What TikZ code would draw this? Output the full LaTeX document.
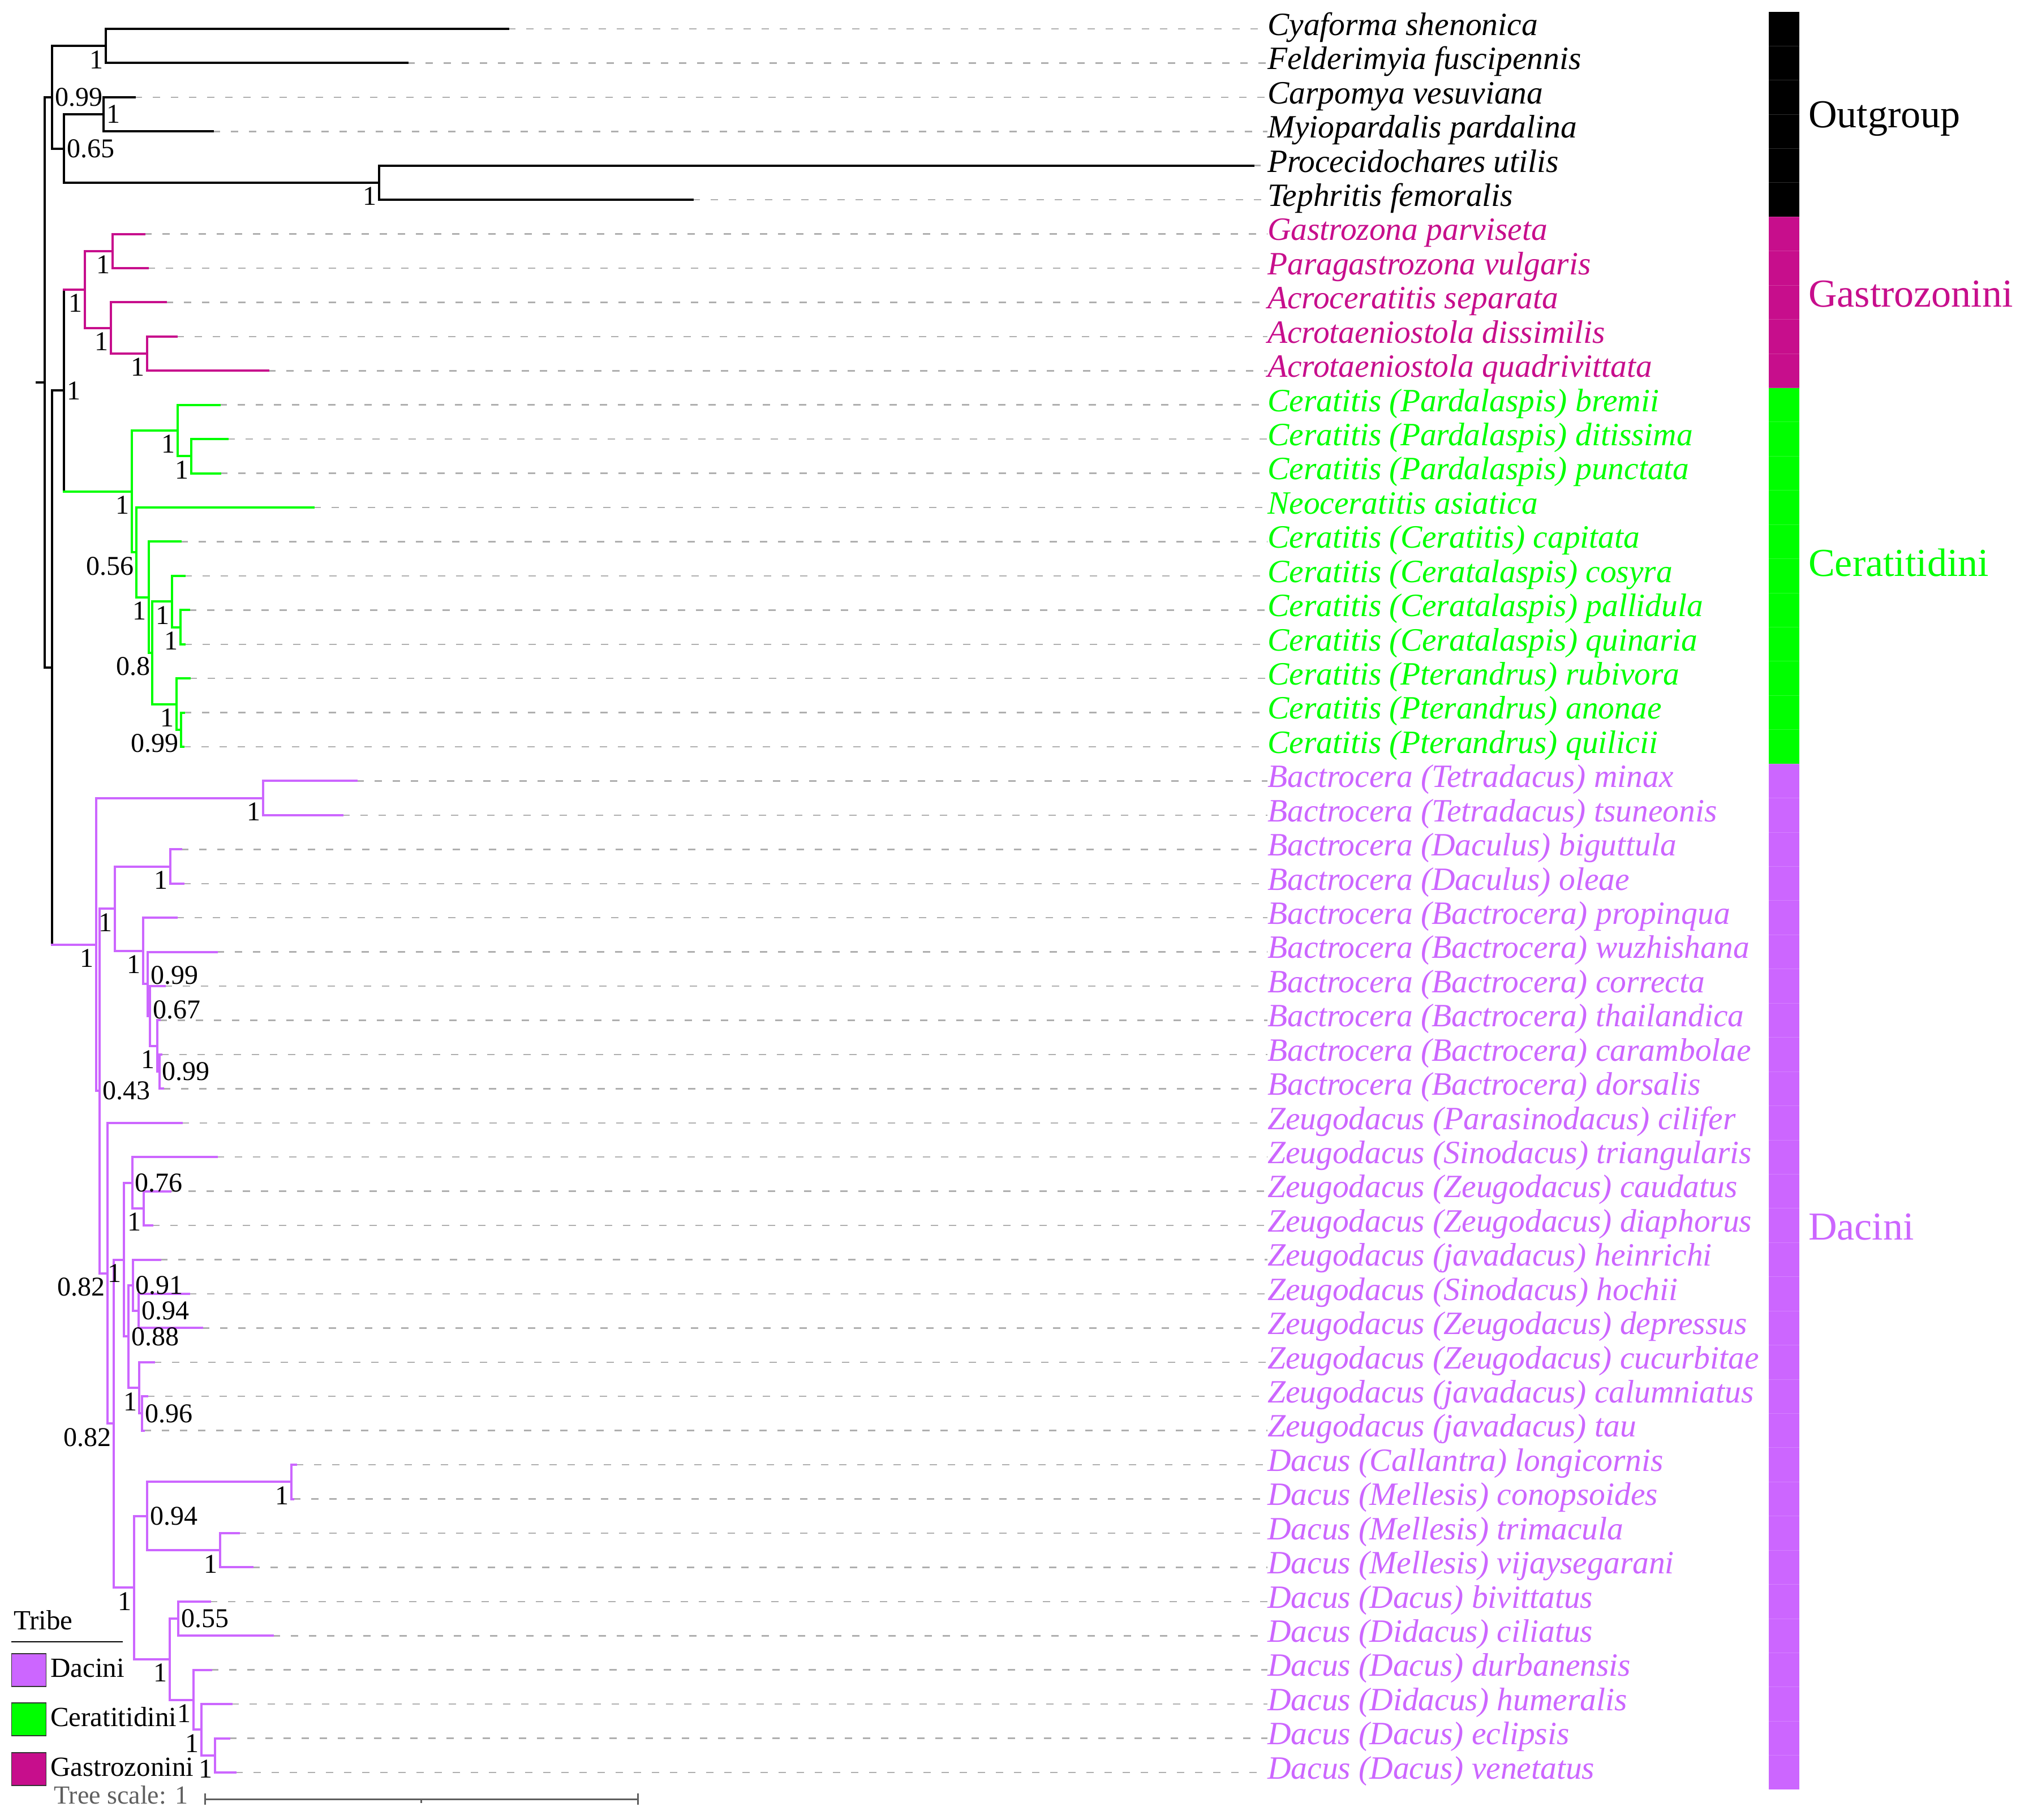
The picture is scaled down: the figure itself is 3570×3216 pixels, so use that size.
\documentclass[tikz,border=0pt]{standalone}
\usepackage{fontspec}
\setmainfont{Liberation Serif}
\usetikzlibrary{calc}
\definecolor{gz}{RGB}{199,14,140}
\definecolor{ce}{RGB}{0,255,0}
\definecolor{da}{RGB}{204,102,255}
\definecolor{dashgray}{RGB}{175,175,175}
\definecolor{scalegray}{RGB}{95,95,95}
\tikzset{
 br/.style={line width=4pt, line cap=rect, line join=miter},
 blk/.style={br, black},
 gzb/.style={br, gz},
 ceb/.style={br, ce},
 dab/.style={br, da},
 dsh/.style={dashgray, line width=2.5pt, dash pattern=on 13pt off 19pt},
 leaf/.style={anchor=mid west, inner sep=0pt, yshift=-9pt, font=\fontsize{57.5}{60}\selectfont\itshape},
 bs/.style={inner sep=0pt, font=\fontsize{48}{50}\selectfont, text=black},
 grp/.style={anchor=base west, inner sep=0pt, font=\fontsize{70}{72}\selectfont},
 leg/.style={anchor=base west, inner sep=0pt, font=\fontsize{49}{52}\selectfont},
 keybox/.style={draw=black!80, line width=1.5pt, minimum width=61pt, minimum height=58pt, inner sep=0pt},
}
\newcommand\leaf[4]{%
 \coordinate (t#1) at (#2,#1);
 \coordinate (e#1) at (2240,#1);
 \node[leaf,text=#3] (l#1) at (e#1) {#4};
 \draw[dsh] (t#1) -- (e#1);
}
\newcommand\clade[5]{%
 \coordinate (#2) at (#3);
 \draw[#1] (#4) -- (#4 -| #2) -- (#5 -| #2) -- (#5);
}
\newcommand\bne[2]{\node[bs,anchor=north east] (s#1) at ([xshift=-4pt,yshift=-8pt]#1) {#2};}
\newcommand\bw[3][0pt]{\node[bs,anchor=west] (s#2) at ([xshift=5pt,yshift=#1]#2) {#3};}
\begin{document}
\begin{tikzpicture}[x=1pt,y=-1pt]
\useasboundingbox (0,0) rectangle (3570,3216);
\fill[white] (0,0) rectangle (3570,3216);
\begin{scope}[yshift=-51pt,y=-60.43pt]
% colour bar
\foreach \i in {0,...,5} \fill[black] (3126,\i-0.5) rectangle (3180,\i+0.5);
\foreach \i in {6,...,10} \fill[gz] (3126,\i-0.5) rectangle (3180,\i+0.5);
\foreach \i in {11,...,21} \fill[ce] (3126,\i-0.5) rectangle (3180,\i+0.5);
\foreach \i in {22,...,51} \fill[da] (3126,\i-0.5) rectangle (3180,\i+0.5);
\foreach \i in {0,...,50} \draw[white, opacity=0.18, line width=1pt] (3126,\i+0.5) -- (3180,\i+0.5);
% leaves
\leaf{0}{898}{black}{Cyaforma shenonica}
\leaf{1}{720}{black}{Felderimyia fuscipennis}
\leaf{2}{238}{black}{Carpomya vesuviana}
\leaf{3}{376}{black}{Myiopardalis pardalina}
\leaf{4}{2215}{black}{Procecidochares utilis}
\leaf{5}{1224}{black}{Tephritis femoralis}
\leaf{6}{255}{gz}{Gastrozona parviseta}
\leaf{7}{261}{gz}{Paragastrozona vulgaris}
\leaf{8}{293}{gz}{Acroceratitis separata}
\leaf{9}{312}{gz}{Acrotaeniostola dissimilis}
\leaf{10}{474}{gz}{Acrotaeniostola quadrivittata}
\leaf{11}{388}{ce}{Ceratitis (Pardalaspis) bremii}
\leaf{12}{402}{ce}{Ceratitis (Pardalaspis) ditissima}
\leaf{13}{389}{ce}{Ceratitis (Pardalaspis) punctata}
\leaf{14}{554}{ce}{Neoceratitis asiatica}
\leaf{15}{319}{ce}{Ceratitis (Ceratitis) capitata}
\leaf{16}{326}{ce}{Ceratitis (Ceratalaspis) cosyra}
\leaf{17}{334}{ce}{Ceratitis (Ceratalaspis) pallidula}
\leaf{18}{326}{ce}{Ceratitis (Ceratalaspis) quinaria}
\leaf{19}{335}{ce}{Ceratitis (Pterandrus) rubivora}
\leaf{20}{325}{ce}{Ceratitis (Pterandrus) anonae}
\leaf{21}{324}{ce}{Ceratitis (Pterandrus) quilicii}
\leaf{22}{630}{da}{Bactrocera (Tetradacus) minax}
\leaf{23}{605}{da}{Bactrocera (Tetradacus) tsuneonis}
\leaf{24}{320}{da}{Bactrocera (Daculus) biguttula}
\leaf{25}{324}{da}{Bactrocera (Daculus) oleae}
\leaf{26}{312}{da}{Bactrocera (Bactrocera) propinqua}
\leaf{27}{383}{da}{Bactrocera (Bactrocera) wuzhishana}
\leaf{28}{291}{da}{Bactrocera (Bactrocera) correcta}
\leaf{29}{282}{da}{Bactrocera (Bactrocera) thailandica}
\leaf{30}{285}{da}{Bactrocera (Bactrocera) carambolae}
\leaf{31}{288}{da}{Bactrocera (Bactrocera) dorsalis}
\leaf{32}{321}{da}{Zeugodacus (Parasinodacus) cilifer}
\leaf{33}{383}{da}{Zeugodacus (Sinodacus) triangularis}
\leaf{34}{301}{da}{Zeugodacus (Zeugodacus) caudatus}
\leaf{35}{269}{da}{Zeugodacus (Zeugodacus) diaphorus}
\leaf{36}{283}{da}{Zeugodacus (javadacus) heinrichi}
\leaf{37}{334}{da}{Zeugodacus (Sinodacus) hochii}
\leaf{38}{357}{da}{Zeugodacus (Zeugodacus) depressus}
\leaf{39}{272}{da}{Zeugodacus (Zeugodacus) cucurbitae}
\leaf{40}{260}{da}{Zeugodacus (javadacus) calumniatus}
\leaf{41}{254}{da}{Zeugodacus (javadacus) tau}
\leaf{42}{523}{da}{Dacus (Callantra) longicornis}
\leaf{43}{518}{da}{Dacus (Mellesis) conopsoides}
\leaf{44}{422}{da}{Dacus (Mellesis) trimacula}
\leaf{45}{446}{da}{Dacus (Mellesis) vijaysegarani}
\leaf{46}{371}{da}{Dacus (Dacus) bivittatus}
\leaf{47}{482}{da}{Dacus (Didacus) ciliatus}
\leaf{48}{373}{da}{Dacus (Dacus) durbanensis}
\leaf{49}{409}{da}{Dacus (Didacus) humeralis}
\leaf{50}{405}{da}{Dacus (Dacus) eclipsis}
\leaf{51}{416}{da}{Dacus (Dacus) venetatus}
% outgroup
\clade{blk}{CF}{187,0.5}{t0}{t1}
\clade{blk}{CM}{183,2.5}{t2}{t3}
\clade{blk}{PT}{670,4.5}{t4}{t5}
\clade{blk}{O65}{113,3.5}{CM}{PT}
\clade{blk}{OG}{92,2}{CF}{O65}
% Gastrozonini
\clade{gzb}{GP}{199,6.5}{t6}{t7}
\clade{gzb}{AT}{260,9.5}{t9}{t10}
\clade{gzb}{AC}{196,8.75}{t8}{AT}
\clade{gzb}{GZ}{150,7.625}{GP}{AC}
% Ceratitidini
\clade{ceb}{DP}{338,12.5}{t12}{t13}
\clade{ceb}{PA}{314,11.75}{t11}{DP}
\clade{ceb}{PQ}{319,17.5}{t17}{t18}
\clade{ceb}{CS}{303.5,16.75}{t16}{PQ}
\clade{ceb}{AQ}{320,20.5}{t20}{t21}
\clade{ceb}{PR}{312,19.75}{t19}{AQ}
\clade{ceb}{C08}{269.3,18.25}{CS}{PR}
\clade{ceb}{C1}{263,16.625}{t15}{C08}
\clade{ceb}{C56}{240.7,15.3125}{t14}{C1}
\clade{ceb}{CE}{233,13.53125}{PA}{C56}
% Gastrozonini + Ceratitidini
\coordinate (GC) at (113,10.578125);
\draw[blk] (GZ -| GC) -- (CE -| GC);
\draw[gzb] (GZ -| GC) -- (GZ);
\draw[ceb] (CE -| GC) -- (CE);
% Dacini
\clade{dab}{TE}{465,22.5}{t22}{t23}
\clade{dab}{DA}{301,24.5}{t24}{t25}
\clade{dab}{B5}{281.5,30.5}{t30}{t31}
\clade{dab}{B4}{278,29.75}{t29}{B5}
\clade{dab}{B3}{265,28.875}{t28}{B4}
\clade{dab}{B2}{261,27.9375}{t27}{B3}
\clade{dab}{B1}{252.5,26.96875}{t26}{B2}
\clade{dab}{B0}{203,25.734375}{DA}{B1}
\clade{dab}{CD}{253.5,34.5}{t34}{t35}
\clade{dab}{Z3}{233.6,33.75}{t33}{CD}
\clade{dab}{Z6}{244.8,37.5}{t37}{t38}
\clade{dab}{Z5}{234.6,36.75}{t36}{Z6}
\clade{dab}{CT}{251.4,40.5}{t40}{t41}
\clade{dab}{Z7}{246.3,39.75}{t39}{CT}
\clade{dab}{Z4}{227,38.25}{Z5}{Z7}
\clade{dab}{Z2}{219,36}{Z3}{Z4}
\clade{dab}{LC}{515,42.5}{t42}{t43}
\clade{dab}{TV}{388.6,44.5}{t44}{t45}
\clade{dab}{D1}{260,43.5}{LC}{TV}
\clade{dab}{D3}{315,46.5}{t46}{t47}
\clade{dab}{D6}{380,50.5}{t50}{t51}
\clade{dab}{D5}{355.5,49.75}{t49}{D6}
\clade{dab}{D4}{341.7,48.875}{t48}{D5}
\clade{dab}{D2}{300,47.6875}{D3}{D4}
\clade{dab}{D0}{237,45.59375}{D1}{D2}
\clade{dab}{Z1}{201,40.796875}{Z2}{D0}
\clade{dab}{ZD}{189.5,36.3984375}{t32}{Z1}
\clade{dab}{XN}{176,31.06640625}{B0}{ZD}
\clade{dab}{DAC}{170,26.783203}{TE}{XN}
% ingroup and root
\coordinate (IN) at (92,18.6807);
\draw[blk] (GC) -- (GC -| IN) -- (DAC -| IN);
\draw[dab] (DAC -| IN) -- (DAC);
\coordinate (ROOT) at (79,10.3403);
\draw[blk] (OG) -- (OG -| ROOT) -- (IN -| ROOT) -- (IN);
\coordinate (RS) at (65,10.3403);
\draw[blk] (RS) -- (ROOT);
% support values
\bne{CF}{1}
\bw{OG}{0.99}
\bw{CM}{1}
\bw{O65}{0.65}
\bne{PT}{1}
\bne{GP}{1}
\bne{GZ}{1}
\bne{AC}{1}
\bne{AT}{1}
\bw{GC}{1}
\bne{PA}{1}
\bne{DP}{1}
\bne{CE}{1}
\bne{C56}{0.56}
\bne{C1}{1}
\bne{CS}{1}
\bne{PQ}{1}
\bne{C08}{0.8}
\bne{PR}{1}
\bne{AQ}{0.99}
\bne{DAC}{1}
\bne{TE}{1}
\bne{DA}{1}
\bne{B0}{1}
\bne{B1}{1}
\bw[15pt]{B2}{0.99}
\bw[11pt]{B3}{0.67}
\bne{B4}{1}
\bw{B5}{0.99}
\bw{XN}{0.43}
\bw{Z3}{0.76}
\bne{CD}{1}
\bne{Z2}{1}
\bw{Z5}{0.91}
\bw{Z6}{0.94}
\bne{ZD}{0.82}
\bw{Z4}{0.88}
\bne{Z7}{1}
\bw{CT}{0.96}
\bne{Z1}{0.82}
\bw{D1}{0.94}
\bne{LC}{1}
\bne{TV}{1}
\bne{D0}{1}
\bw{D3}{0.55}
\bne{D2}{1}
\bne{D4}{1}
\bne{D5}{1}
\bne{D6}{1}
\end{scope}
% group labels
\node[grp] (gO) at (3196,225) {Outgroup};
\node[grp,text=gz] (gG) at (3196,542) {Gastrozonini};
\node[grp,text=ce] (gC) at (3196,1018) {Ceratitidini};
\node[grp,text=da] (gD) at (3196,2191) {Dacini};
% legend
\node[leg] (tribe) at (24,2880) {Tribe};
\coordinate (ruleA) at (20,2902);
\coordinate (ruleB) at (217,2902);
\draw[black, line width=2.5pt] (ruleA) -- (ruleB);
\node[keybox, fill=da] (kD) at (51,2952) {};
\node[keybox, fill=ce] (kC) at (51,3039) {};
\node[keybox, fill=gz] (kG) at (51,3127) {};
\node[leg] (tD) at (89,2964) {Dacini};
\node[leg] (tC) at (89,3051) {Ceratitidini};
\node[leg] (tG) at (89,3139) {Gastrozonini};
% tree scale
\node[leg, text=scalegray, font=\fontsize{46}{48}\selectfont] (ts) at (95,3188) {Tree scale: 1};
\coordinate (sA) at (362,3180);
\coordinate (sB) at (1127,3180);
\coordinate (sM) at (744.5,3180);
\draw[scalegray, line width=3pt] (sA) -- (sB);
\draw[scalegray, line width=3pt] ([yshift=10pt]sA) -- ([yshift=-10pt]sA);
\draw[scalegray, line width=3pt] ([yshift=10pt]sB) -- ([yshift=-10pt]sB);
\draw[scalegray, line width=3pt] (sM) -- ([yshift=-7pt]sM);
\end{tikzpicture}
\end{document}
